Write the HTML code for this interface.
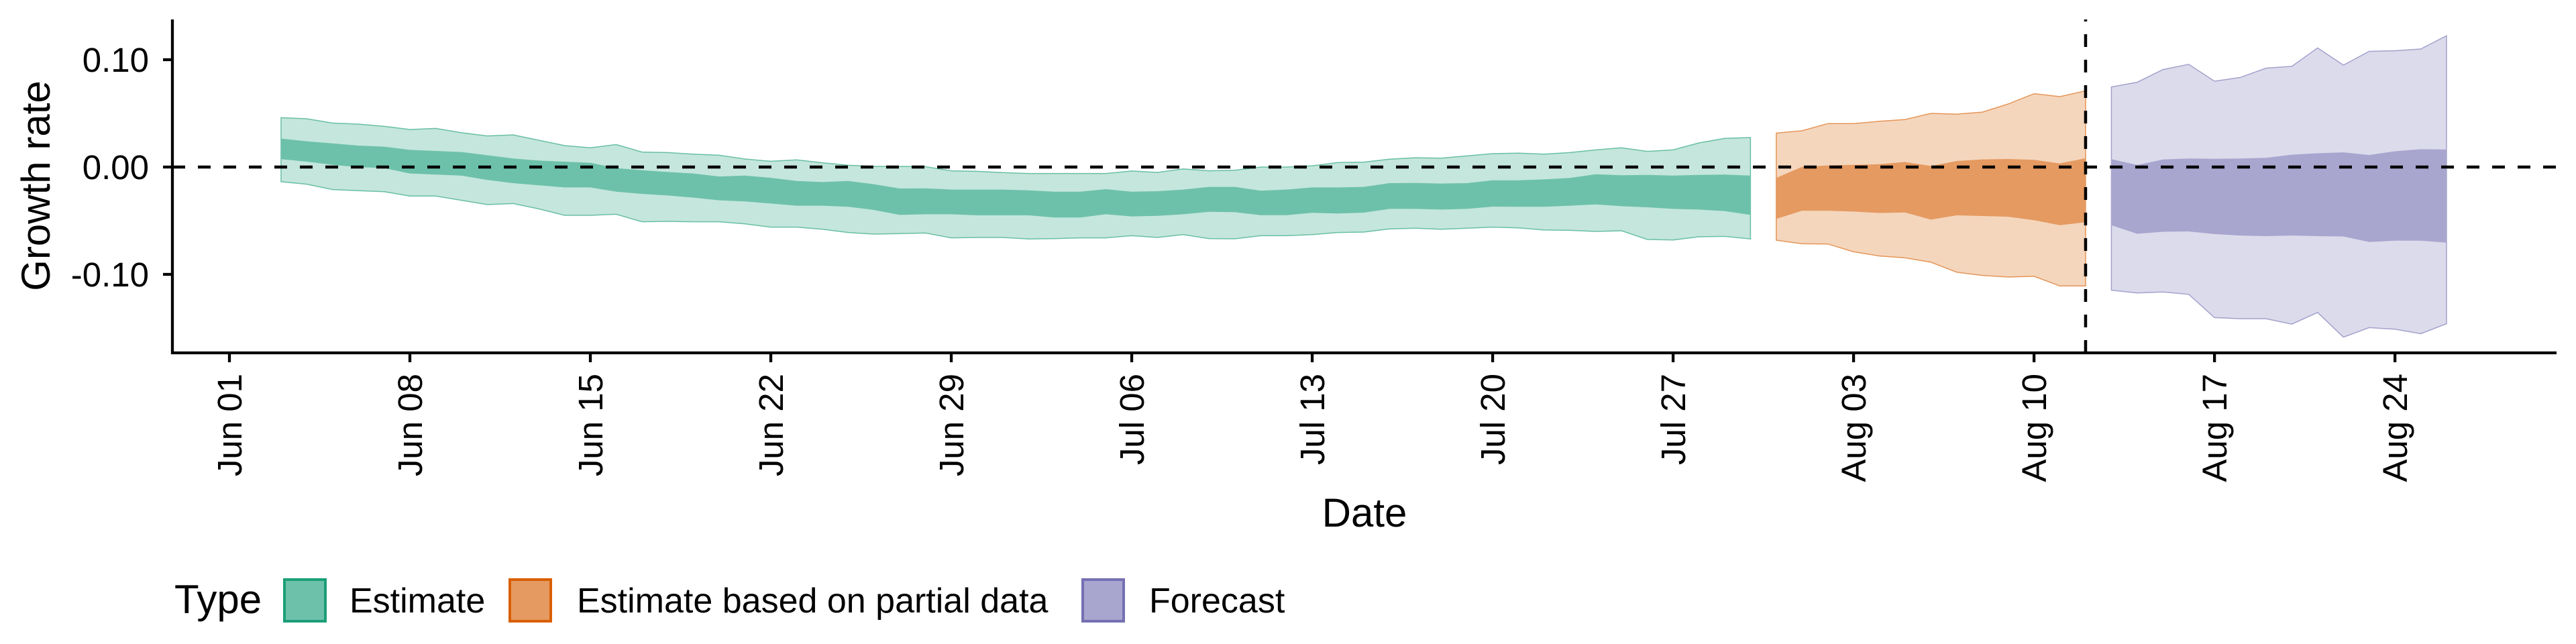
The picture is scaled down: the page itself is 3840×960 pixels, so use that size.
<!DOCTYPE html>
<html><head><meta charset="utf-8"><style>
html,body{margin:0;padding:0;background:#fff;}
svg{display:block;font-family:"Liberation Sans",Arial,sans-serif;}
</style></head><body>
<svg id="chart" width="3840" height="960" viewBox="0 0 3840 960" xmlns="http://www.w3.org/2000/svg">
<g id="bands"></g>
<g id="axes"></g>
<g id="legend"></g>
</svg>
<script>
// day index: 0 = Jun 01
const estDays = [2,3,4,5,6,7,8,9,10,11,12,13,14,15,16,17,18,19,20,21,22,23,24,25,26,27,28,29,30,31,32,33,34,35,36,37,38,39,40,41,42,43,44,45,46,47,48,49,50,51,52,53,54,55,56,57,58,59];
const estHi90 = [0.046,0.045,0.041,0.040,0.038,0.035,0.036,0.032,0.029,0.030,0.025,0.020,0.018,0.021,0.014,0.0135,0.012,0.011,0.0075,0.0054,0.0067,0.004,0.0017,0.0006,0.0006,0.0004,-0.0035,-0.004,-0.0052,-0.006,-0.006,-0.006,-0.006,-0.0037,-0.005,-0.0017,-0.0035,-0.003,0,0,0.0012,0.0042,0.0046,0.0073,0.0087,0.0083,0.0104,0.0125,0.013,0.012,0.0135,0.016,0.018,0.0146,0.016,0.0225,0.0267,0.0275];
const estHi50 = [0.0265,0.024,0.022,0.020,0.019,0.016,0.015,0.014,0.011,0.008,0.006,0.005,0.004,-0.001,-0.003,-0.0046,-0.006,-0.0088,-0.008,-0.010,-0.013,-0.014,-0.013,-0.016,-0.020,-0.0198,-0.021,-0.021,-0.021,-0.0217,-0.023,-0.023,-0.0206,-0.023,-0.0225,-0.021,-0.0185,-0.0185,-0.022,-0.021,-0.019,-0.019,-0.0185,-0.015,-0.0148,-0.0154,-0.015,-0.0123,-0.0123,-0.0115,-0.0102,-0.0067,-0.0077,-0.0073,-0.008,-0.0073,-0.007,-0.008];
const estLo50 = [0.0073,0.005,0.002,0.000,-0.001,-0.006,-0.007,-0.008,-0.012,-0.015,-0.017,-0.019,-0.019,-0.023,-0.025,-0.0265,-0.0285,-0.031,-0.032,-0.034,-0.036,-0.036,-0.037,-0.040,-0.0446,-0.044,-0.044,-0.045,-0.045,-0.045,-0.047,-0.047,-0.044,-0.046,-0.0455,-0.044,-0.0417,-0.042,-0.0448,-0.0448,-0.0427,-0.0433,-0.0425,-0.039,-0.039,-0.0396,-0.039,-0.0369,-0.037,-0.037,-0.036,-0.0348,-0.0365,-0.0375,-0.039,-0.0396,-0.041,-0.0446];
const estLo90 = [-0.0137,-0.016,-0.021,-0.022,-0.023,-0.027,-0.027,-0.031,-0.035,-0.034,-0.039,-0.045,-0.045,-0.044,-0.051,-0.0506,-0.051,-0.051,-0.053,-0.056,-0.056,-0.058,-0.061,-0.0625,-0.062,-0.0615,-0.066,-0.0656,-0.0656,-0.067,-0.0667,-0.066,-0.066,-0.064,-0.0656,-0.063,-0.0667,-0.0669,-0.064,-0.064,-0.063,-0.061,-0.0606,-0.0577,-0.057,-0.058,-0.057,-0.056,-0.0567,-0.0587,-0.059,-0.060,-0.0594,-0.0675,-0.068,-0.065,-0.0646,-0.067];
const partDays = [60,61,62,63,64,65,66,67,68,69,70,71,72];
const partHi90 = [0.0316,0.0338,0.0405,0.0405,0.0426,0.0443,0.050,0.0493,0.0512,0.0588,0.0684,0.0656,0.071];
const partHi50 = [-0.0101,0.0002,0.0015,0.002,0.0026,0.0047,0.001,0.0056,0.0071,0.0075,0.0067,0.0034,0.0082];
const partLo50 = [-0.0484,-0.0407,-0.0407,-0.0415,-0.0428,-0.0424,-0.049,-0.045,-0.0456,-0.0463,-0.0495,-0.0542,-0.0514];
const partLo90 = [-0.0682,-0.0715,-0.0717,-0.079,-0.0829,-0.0846,-0.0887,-0.098,-0.101,-0.1025,-0.1018,-0.1108,-0.1108];
const fcDays = [73,74,75,76,77,78,79,80,81,82,83,84,85,86];
const fcHi90 = [0.0746,0.079,0.0909,0.0957,0.080,0.0835,0.0922,0.0938,0.111,0.095,0.1078,0.1084,0.110,0.1224];
const fcHi50 = [0.0073,0.0019,0.007,0.008,0.0077,0.008,0.0086,0.0115,0.0128,0.0137,0.0112,0.0147,0.0166,0.0163];
const fcLo50 = [-0.0542,-0.0622,-0.0603,-0.060,-0.0625,-0.0638,-0.0644,-0.0638,-0.0644,-0.0647,-0.0698,-0.0686,-0.0686,-0.0705];
const fcLo90 = [-0.1148,-0.1173,-0.1164,-0.1186,-0.1403,-0.1413,-0.1413,-0.1464,-0.1355,-0.1585,-0.1496,-0.1511,-0.1553,-0.146];
const yTicks = [0.10, 0.00, -0.10];
const yTickLabels = ["0.10","0.00","-0.10"];
const xTickDays = [0,7,14,21,28,35,42,49,56,63,70,77,84];
const xTickLabels = ["Jun 01","Jun 08","Jun 15","Jun 22","Jun 29","Jul 06","Jul 13","Jul 20","Jul 27","Aug 03","Aug 10","Aug 17","Aug 24"];
const forecastStartDay = 72;
const legendLabels = ["Estimate","Estimate based on partial data","Forecast"];

const NS="http://www.w3.org/2000/svg";
const X0=257, X1=3811, Y0=29, Y1=526;
function xs(d){return 342 + d*38.43;}
function ys(v){return 249 - v*1600;}
function mk(tag, parent, attrs){const e=document.createElementNS(NS,tag);for(const k in attrs)e.setAttribute(k,attrs[k]);parent.appendChild(e);return e;}
const bands=document.getElementById('bands'), axes=document.getElementById('axes'), legend=document.getElementById('legend');

function ribbon(days, hi, lo, fill, stroke, name){
  let d='M'+days.map((t,i)=>xs(t).toFixed(1)+','+ys(hi[i]).toFixed(1)).join('L');
  for(let i=days.length-1;i>=0;i--) d+='L'+xs(days[i]).toFixed(1)+','+ys(lo[i]).toFixed(1);
  d+='Z';
  const p=mk('path',bands,{d:d,fill:fill,stroke:stroke,'stroke-width':stroke==='none'?0:1.5,'stroke-opacity':0.6});
  
  
}
ribbon(estDays,estHi90,estLo90,'#c5e6dc','#1b9e77','estimate-90-band');
ribbon(estDays,estHi50,estLo50,'#6dc1aa','none','estimate-50-band');
ribbon(partDays,partHi90,partLo90,'#f4d6bd','#d95f02','partial-90-band');
ribbon(partDays,partHi50,partLo50,'#e59a61','none','partial-50-band');
ribbon(fcDays,fcHi90,fcLo90,'#dcdbeb','#7570b3','forecast-90-band');
ribbon(fcDays,fcHi50,fcLo50,'#a8a5cf','none','forecast-50-band');

// zero line & forecast divider
let zl=mk('line',axes,{x1:X0,x2:X1,y1:ys(0),y2:ys(0),stroke:'#000','stroke-width':4.5,'stroke-dasharray':'19 19'});


let vl=mk('line',axes,{x1:xs(forecastStartDay),x2:xs(forecastStartDay),y1:Y1,y2:Y0,stroke:'#000','stroke-width':4.5,'stroke-dasharray':'19 19'});



// axes
let ya=mk('line',axes,{x1:X0,x2:X0,y1:Y0,y2:Y1+2,stroke:'#000','stroke-width':4.3});


let xa=mk('line',axes,{x1:X0-2,x2:X1,y1:Y1,y2:Y1,stroke:'#000','stroke-width':4.3});


yTicks.forEach((v,i)=>{
  const t=mk('line',axes,{x1:X0-14,x2:X0,y1:ys(v),y2:ys(v),stroke:'#000','stroke-width':4.3});
  
  
  const l=mk('text',axes,{x:222,y:ys(v)+18,'text-anchor':'end','font-size':51,fill:'#000'});
  l.textContent=yTickLabels[i];
  
  
});
xTickDays.forEach((dd,i)=>{
  const x=xs(dd);
  const t=mk('line',axes,{x1:x,x2:x,y1:Y1,y2:Y1+14,stroke:'#000','stroke-width':4.3});
  
  
  const l=mk('text',axes,{transform:'translate('+(x+18)+',557) rotate(-90)','text-anchor':'end','font-size':51,fill:'#000'});
  l.textContent=xTickLabels[i];
  
  
});
let yt=mk('text',axes,{transform:'translate(74,277) rotate(-90)','text-anchor':'middle','font-size':60,fill:'#000'});
yt.textContent='Growth rate';


let xt=mk('text',axes,{x:2034,y:785,'text-anchor':'middle','font-size':60,fill:'#000'});
xt.textContent='Date';



// legend
let lt=mk('text',legend,{x:260,y:914,'font-size':60,fill:'#000'});
lt.textContent='Type';


const keyX=[422,758,1612], txtX=[521,860,1713];
const keyFill=['#6dc1aa','#e59a61','#a8a5cf'], keyStroke=['#1b9e77','#d95f02','#7570b3'];
legendLabels.forEach((lab,i)=>{
  const r=mk('rect',legend,{x:keyX[i]+2,y:864,width:61,height:62,fill:keyFill[i],stroke:keyStroke[i],'stroke-width':4});
  
  
  const t=mk('text',legend,{x:txtX[i],y:913,'font-size':52,fill:'#000'});
  t.textContent=lab;
  
  
});
</script>
</body></html>
